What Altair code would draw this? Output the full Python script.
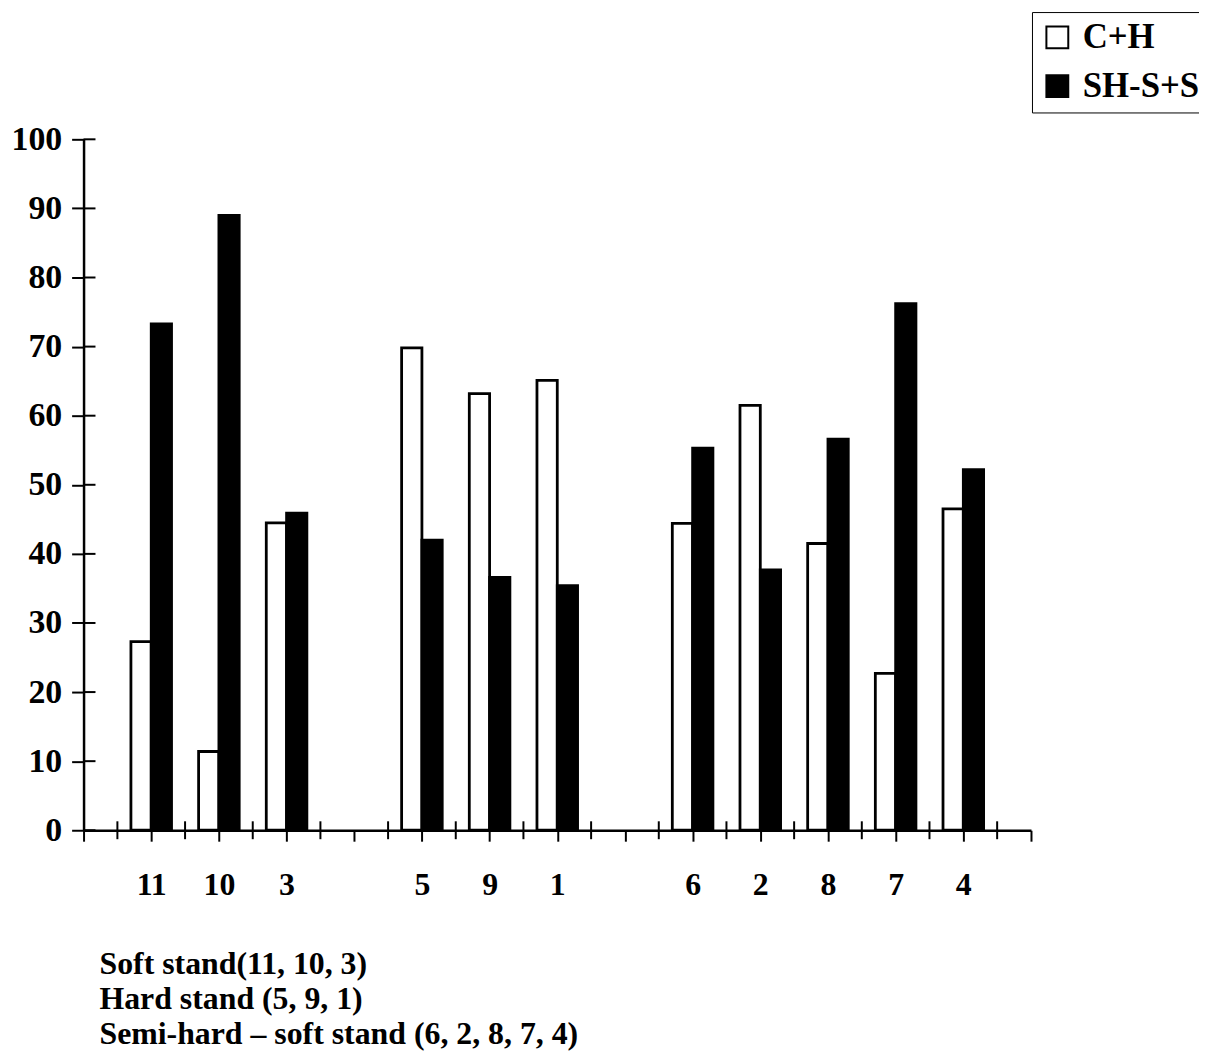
import altair as alt
import pandas as pd

# ---- data ----
categories = ["11", "10", "3", "5", "9", "1", "6", "2", "8", "7", "4"]
slots = [1, 2, 3, 5, 6, 7, 9, 10, 11, 12, 13]          # slot positions along the axis (gaps at 4 and 8)
ch_values = [27.3, 11.4, 44.5, 69.8, 63.2, 65.1, 44.4, 61.5, 41.5, 22.7, 46.5]   # C+H (white)
sh_values = [73.3, 89.0, 45.9, 42.0, 36.6, 35.4, 55.3, 37.7, 56.6, 76.2, 52.2]   # SH-S+S (black)
series = ["C+H", "SH-S+S"]
y_ticks = list(range(0, 101, 10))
n_slots = 14
int_slots = list(range(n_slots + 1))
half_slots = [i + 0.5 for i in range(n_slots)]
caption = ["Soft stand(11, 10, 3)",
           "Hard stand (5, 9, 1)",
           "Semi-hard \u2013 soft stand (6, 2, 8, 7, 4)"]

BAR = 0.3
rows = []
for c, s, a, b in zip(categories, slots, ch_values, sh_values):
    rows.append(dict(cat=c, series=series[0], x0=s - BAR, x1=s, value=a, base=0))
    rows.append(dict(cat=c, series=series[1], x0=s, x1=s + BAR, value=b, base=0))
df = pd.DataFrame(rows)

label_arr = [""] * (n_slots + 1)
for c, s in zip(categories, slots):
    label_arr[s] = c
label_expr = "[" + ",".join("'%s'" % l for l in label_arr) + "][datum.value]"

FONT = "Liberation Serif"
W, H = 953, 695

xscale = alt.Scale(domain=[0, n_slots], nice=False, zero=False)
yscale = alt.Scale(domain=[0, 100], nice=False)

bars = alt.Chart(df).mark_bar(stroke="black", strokeWidth=2.8).encode(
    x=alt.X("x0:Q", scale=xscale,
            axis=alt.Axis(values=int_slots, labelExpr=label_expr, title=None, grid=False,
                          tickSize=11, tickWidth=2, tickColor="black",
                          domainWidth=2.5, domainColor="black",
                          labelFont=FONT, labelFontSize=32, labelFontWeight="bold",
                          labelColor="black", labelPadding=29, labelFlush=False,
                          labelOverlap=False)),
    x2="x1:Q",
    y=alt.Y("value:Q", scale=yscale,
            axis=alt.Axis(values=y_ticks, title=None, grid=False,
                          tickSize=12, tickWidth=2, tickColor="black",
                          domainWidth=2.5, domainColor="black",
                          labelFont=FONT, labelFontSize=34, labelFontWeight="bold",
                          labelColor="black", labelPadding=10)),
    y2="base:Q",
    color=alt.Color("series:N", scale=alt.Scale(domain=series, range=["white", "black"]),
                    legend=alt.Legend(title=None, orient="none", legendX=954, legendY=-128,
                                      symbolType="square", symbolSize=484,
                                      symbolStrokeColor="black", symbolStrokeWidth=2,
                                      labelFont=FONT, labelFontSize=35, labelFontWeight="bold",
                                      labelColor="black", labelOffset=8,
                                      strokeColor="black", fillColor="white",
                                      padding=8, rowPadding=13)),
)

half_ticks = alt.Chart(pd.DataFrame({"h": half_slots})).mark_rule(
    color="black", strokeWidth=2).encode(
    x=alt.X("h:Q", scale=xscale),
    y=alt.value(H - 9), y2=alt.value(H + 9),
)

y_inner = alt.Chart(pd.DataFrame({"t": y_ticks})).mark_rule(
    color="black", strokeWidth=2).encode(
    y=alt.Y("t:Q", scale=yscale),
    x=alt.value(0), x2=alt.value(12),
)

chart = alt.layer(bars, half_ticks, y_inner).properties(
    width=W, height=H,
    background="white",
    autosize=alt.AutoSizeParams(type="none"),
    padding={"left": 76, "top": 129, "right": 169, "bottom": 226},
    title=alt.TitleParams(text=caption, orient="bottom", anchor="start", frame="group",
                          font=FONT, fontSize=32, fontWeight="bold", color="black",
                          lineHeight=35, offset=49, dx=16),
).configure_view(strokeWidth=0, stroke=None)

chart.save("out.html", embed_options={"renderer": "svg", "actions": False})
